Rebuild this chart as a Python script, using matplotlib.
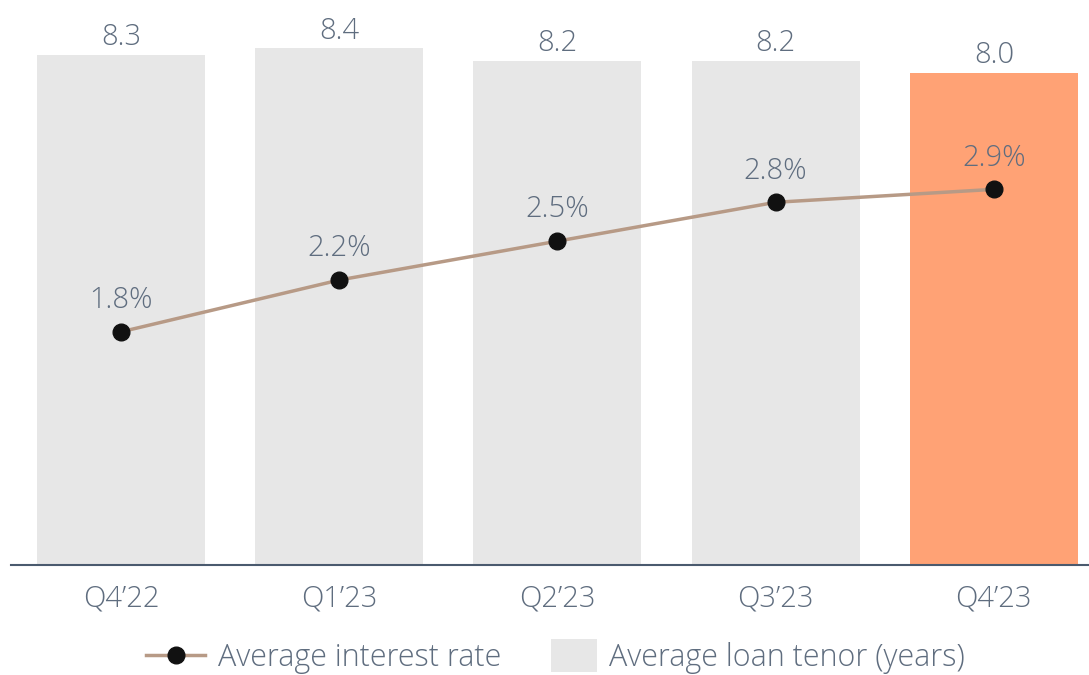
import numpy as np
import matplotlib
matplotlib.use('Agg')
from matplotlib import pyplot
from matplotlib.lines import Line2D
from matplotlib.patches import Patch, Rectangle
from matplotlib.legend_handler import HandlerPatch

quarters = ['Q4\u201922', 'Q1\u201923', 'Q2\u201923', 'Q3\u201923', 'Q4\u201923']
tenor_years = [8.3, 8.4, 8.2, 8.2, 8.0]
interest_rate = [1.8, 2.2, 2.5, 2.8, 2.9]

text_color = '#5f6d7f'
bar_colors = ['#e7e7e7'] * 4 + ['#ffa275']
line_color = '#b79a86'
font_size = 21

pyplot.rcParams['font.family'] = ['Open Sans', 'DejaVu Sans']
pyplot.rcParams['font.weight'] = 'light'


def small_box(legend, orig_handle, xdescent, ydescent, width, height, fontsize):
    # narrower, taller swatch than the default legend patch
    w, h = 33, 24
    return Rectangle((width - w - xdescent, (height - h) / 2 - ydescent), w, h)


figure = pyplot.figure(figsize=(10.89, 6.75), dpi=100)
axes = figure.add_axes([0, 110 / 675, 1, 565 / 675])
x = np.arange(len(quarters))

axes.bar(x, tenor_years, width=0.77, color=bar_colors, zorder=1)
for xi, v in zip(x, tenor_years):
    axes.annotate('{:.1f}'.format(v), (xi, v), xytext=(0, 2), textcoords='offset points',
                  ha='center', va='bottom', fontsize=font_size, color=text_color)

axes.set_xlim(-0.555, 4.436)
axes.set_ylim(0, 565 / 61.5)
for side in ['top', 'right', 'left']:
    axes.spines[side].set_visible(False)
axes.spines['bottom'].set_color('#4a5a6e')
axes.spines['bottom'].set_linewidth(1.5)
axes.spines['bottom'].set_bounds(-0.505, 4.436)
axes.set_yticks([])
axes.set_xticks(x)
axes.set_xticklabels(quarters, fontsize=font_size, color=text_color)
axes.tick_params(axis='x', length=0, pad=14)

rate_axes = axes.twinx()
rate_axes.set_ylim(0, 567 / 130)
rate_axes.plot(x, interest_rate, color=line_color, linewidth=2.5, marker='o',
               markersize=12, markerfacecolor='#111111', markeredgecolor='#111111', zorder=3)
for xi, v in zip(x, interest_rate):
    rate_axes.annotate('{:.1f}%'.format(v), (xi, v), xytext=(0, 12), textcoords='offset points',
                       ha='center', va='bottom', fontsize=font_size, color=text_color)
rate_axes.axis('off')

handles = [
    Line2D([], [], color=line_color, linewidth=2.5, marker='o', markersize=12,
           markerfacecolor='#111111', markeredgecolor='#111111'),
    Patch(facecolor='#e7e7e7'),
]
figure.legend(handles, ['Average interest rate', 'Average loan tenor (years)'],
              loc='center', bbox_to_anchor=(0.51, 17 / 675), ncol=2,
              frameon=False, fontsize=22, labelcolor=text_color, handlelength=1.95,
              columnspacing=1.2, handletextpad=0.4,
              handler_map={Patch: HandlerPatch(patch_func=small_box)})

pyplot.savefig('out.png')
